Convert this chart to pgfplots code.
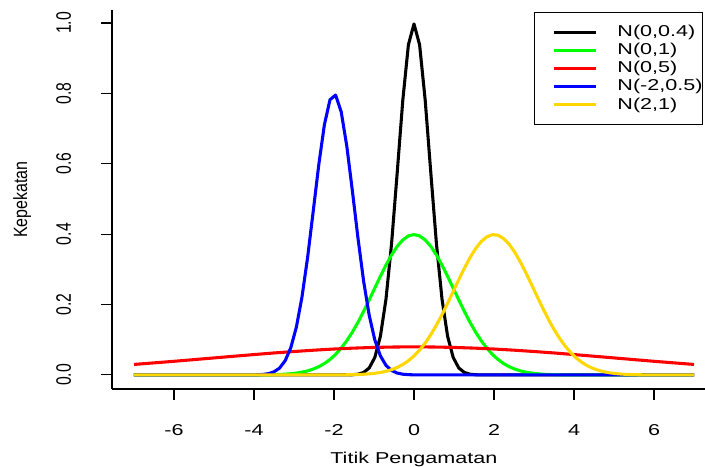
\documentclass[border=0pt]{standalone}
\usepackage{fontspec}
\setmainfont{Liberation Sans}[FakeStretch=1.37]
\newfontfamily\rotfont{Liberation Sans}
\usepackage{graphicx}
\usepackage{pgfplots}
\pgfplotsset{compat=1.18}
\definecolor{rgold}{RGB}{255,215,0}
\newcommand\rotlab[1]{\scalebox{1}[1.33]{\rotfont #1}}
\begin{document}
\begin{tikzpicture}
\begin{axis}[
  scale only axis, width=444.75pt, height=284.25pt,
  xmin=-7.55, xmax=7.275, ymin=-0.0399, ymax=1.037,
  axis x line*=bottom, axis y line*=left,
  axis line style={line width=0.8pt, -},
  tick align=outside, major tick length=8pt,
  tick style={line width=0.8pt, black},
  xtick={-6,-4,-2,0,2,4,6},
  xticklabels={-6,-4,-2,0,2,4,6},
  ytick={0,0.2,0.4,0.6,0.8,1.0},
  yticklabels={\rotlab{0.0},\rotlab{0.2},\rotlab{0.4},\rotlab{0.6},\rotlab{0.8},\rotlab{1.0}},
  tick label style={font=\fontsize{11.8}{13}\selectfont},
  xticklabel style={anchor=north, inner sep=0pt},
  xticklabel shift=18.75pt,
  yticklabel style={rotate=90, anchor=south, inner sep=0pt},
  yticklabel shift=22.5pt,
  xlabel={Titik Pengamatan},
  xlabel style={at={([yshift=-47.25pt, xshift=4pt]axis description cs:0.5,0)}, anchor=north, inner sep=0pt, font=\fontsize{11.8}{13}\selectfont},
  ylabel={\scalebox{1}[1.2]{\rotfont\fontsize{12}{14}\selectfont Kepekatan}},
  ylabel style={at={([xshift=-74.25pt]axis description cs:0,0.5)}, anchor=north, inner sep=0pt},
  legend image code/.code={\path (0pt,0pt) (60pt,0pt); \draw[#1] (13.5pt,0pt) -- (45pt,0pt);},
  legend style={at={(0.9966,0.995)}, anchor=north east, draw=black, line width=0.75pt,
    inner xsep=0pt, inner ysep=8pt, row sep=0pt,
    font=\fontsize{11.8}{13}\selectfont, cells={anchor=west},
    nodes={inner xsep=0pt, inner ysep=1.75pt}},
  every axis plot/.append style={line width=2.3pt, line join=round},
]
% N(0,0.4)
\addplot[black] coordinates {(-7,0) (-1.82,0) (-1.68,0.0001) (-1.54,0.0006) (-1.40,0.0022) (-1.26,0.0070) (-1.12,0.0198) (-0.98,0.0496) (-0.84,0.1100) (-0.70,0.2157) (-0.56,0.3743) (-0.42,0.5748) (-0.28,0.7807) (-0.14,0.9381) (0,0.9974) (0.14,0.9381) (0.28,0.7807) (0.42,0.5748) (0.56,0.3743) (0.70,0.2157) (0.84,0.1100) (0.98,0.0496) (1.12,0.0198) (1.26,0.0070) (1.40,0.0022) (1.54,0.0006) (1.68,0.0001) (1.82,0) (7,0)};
\addlegendentry{N(0,0.4)}
% N(0,1)
\addplot[color={rgb,255:red,0;green,255;blue,0}] coordinates {(-7,0) (-4.20,0) (-4.06,0.0001) (-3.92,0.0002) (-3.78,0.0003) (-3.64,0.0005) (-3.50,0.0009) (-3.36,0.0014) (-3.22,0.0022) (-3.08,0.0035) (-2.94,0.0053) (-2.80,0.0079) (-2.66,0.0116) (-2.52,0.0167) (-2.38,0.0235) (-2.24,0.0325) (-2.10,0.0440) (-1.96,0.0584) (-1.82,0.0761) (-1.68,0.0973) (-1.54,0.1219) (-1.40,0.1497) (-1.26,0.1804) (-1.12,0.2131) (-0.98,0.2468) (-0.84,0.2803) (-0.70,0.3123) (-0.56,0.3411) (-0.42,0.3653) (-0.28,0.3836) (-0.14,0.3951) (0,0.3989) (0.14,0.3951) (0.28,0.3836) (0.42,0.3653) (0.56,0.3411) (0.70,0.3123) (0.84,0.2803) (0.98,0.2468) (1.12,0.2131) (1.26,0.1804) (1.40,0.1497) (1.54,0.1219) (1.68,0.0973) (1.82,0.0761) (1.96,0.0584) (2.10,0.0440) (2.24,0.0325) (2.38,0.0235) (2.52,0.0167) (2.66,0.0116) (2.80,0.0079) (2.94,0.0053) (3.08,0.0035) (3.22,0.0022) (3.36,0.0014) (3.50,0.0009) (3.64,0.0005) (3.78,0.0003) (3.92,0.0002) (4.06,0.0001) (4.20,0) (7,0)};
\addlegendentry{N(0,1)}
% N(0,5)
\addplot[color={rgb,255:red,255;green,0;blue,0}] coordinates {(-7,0.0299) (-6.5,0.0343) (-6,0.0388) (-5.5,0.0436) (-5,0.0484) (-4.5,0.0532) (-4,0.0579) (-3.5,0.0625) (-3,0.0666) (-2.5,0.0704) (-2,0.0737) (-1.5,0.0763) (-1,0.0782) (-0.5,0.0794) (0,0.0798) (0.5,0.0794) (1,0.0782) (1.5,0.0763) (2,0.0737) (2.5,0.0704) (3,0.0666) (3.5,0.0625) (4,0.0579) (4.5,0.0532) (5,0.0484) (5.5,0.0436) (6,0.0388) (6.5,0.0343) (7,0.0299)};
\addlegendentry{N(0,5)}
% N(-2,0.5)
\addplot[color={rgb,255:red,0;green,0;blue,255}] coordinates {(-7,0) (-4.20,0) (-4.06,0.0002) (-3.92,0.0005) (-3.78,0.0014) (-3.64,0.0037) (-3.50,0.0089) (-3.36,0.0197) (-3.22,0.0407) (-3.08,0.0774) (-2.94,0.1363) (-2.80,0.2218) (-2.66,0.3339) (-2.52,0.4646) (-2.38,0.5978) (-2.24,0.7111) (-2.10,0.7821) (-1.96,0.7953) (-1.82,0.7478) (-1.68,0.6501) (-1.54,0.5226) (-1.40,0.3884) (-1.26,0.2669) (-1.12,0.1696) (-0.98,0.0996) (-0.84,0.0541) (-0.70,0.0272) (-0.56,0.0126) (-0.42,0.0054) (-0.28,0.0021) (-0.14,0.0008) (0,0.0003) (0.14,0.0001) (0.28,0) (7,0)};
\addlegendentry{N(-2,0.5)}
% N(2,1)
\addplot[color=rgold] coordinates {(-7,0) (-2.10,0.0001) (-1.96,0.0002) (-1.82,0.0003) (-1.68,0.0005) (-1.54,0.0008) (-1.40,0.0012) (-1.26,0.0020) (-1.12,0.0031) (-0.98,0.0047) (-0.84,0.0071) (-0.70,0.0104) (-0.56,0.0151) (-0.42,0.0213) (-0.28,0.0297) (-0.14,0.0404) (0,0.0540) (0.14,0.0707) (0.28,0.0909) (0.42,0.1144) (0.56,0.1415) (0.70,0.1714) (0.84,0.2036) (0.98,0.2371) (1.12,0.2709) (1.26,0.3035) (1.40,0.3332) (1.54,0.3589) (1.68,0.3790) (1.82,0.3925) (1.96,0.3986) (2.10,0.3970) (2.24,0.3876) (2.38,0.3712) (2.52,0.3485) (2.66,0.3209) (2.80,0.2897) (2.94,0.2565) (3.08,0.2226) (3.22,0.1896) (3.36,0.1582) (3.50,0.1295) (3.64,0.1040) (3.78,0.0818) (3.92,0.0632) (4.06,0.0478) (4.20,0.0355) (4.34,0.0258) (4.48,0.0184) (4.62,0.0129) (4.76,0.0089) (4.90,0.0060) (5.04,0.0039) (5.18,0.0025) (5.32,0.0016) (5.46,0.0010) (5.60,0.0006) (5.74,0.0004) (5.88,0.0002) (6.02,0.0001) (6.16,0) (7,0)};
\addlegendentry{N(2,1)}
\end{axis}
\pgfresetboundingbox
\path ([shift={(-84pt,-58.5pt)}]current axis.south west) rectangle ([shift={(0pt,7.5pt)}]current axis.north east);
\end{tikzpicture}
\end{document}
